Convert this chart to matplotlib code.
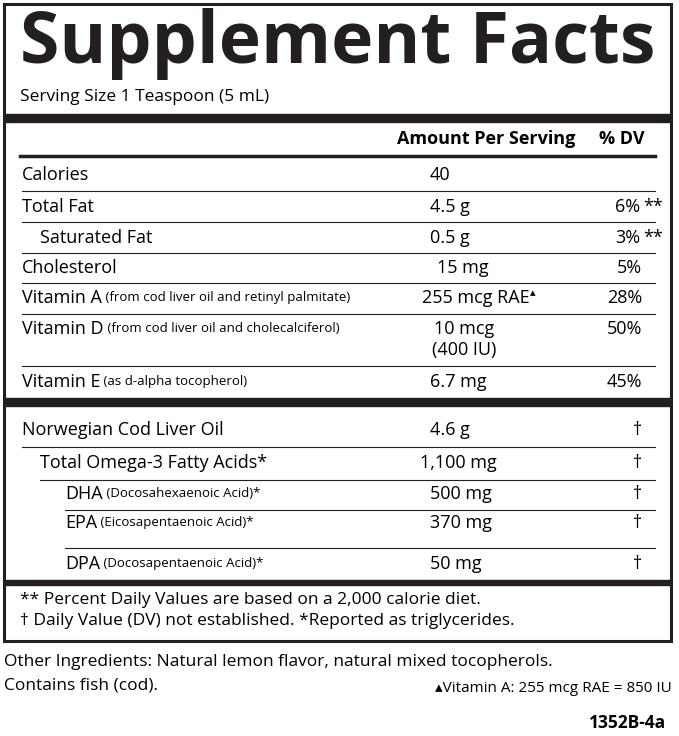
import matplotlib

matplotlib.use("Agg")
import matplotlib.pyplot as plt

FONT = ["Open Sans", "DejaVu Sans"]

serving = "Serving Size 1 Teaspoon (5 mL)"
nutrients = ["Calories", "Total Fat", "Saturated Fat", "Cholesterol", "Vitamin A", "Vitamin D",
             "Vitamin E", "Norwegian Cod Liver Oil", "Total Omega-3 Fatty Acids*", "DHA", "EPA", "DPA"]
notes = ["", "", "", "", "(from cod liver oil and retinyl palmitate)", "(from cod liver oil and cholecalciferol)",
         "(as d-alpha tocopherol)", "", "", "(Docosahexaenoic Acid)*", "(Eicosapentaenoic Acid)*",
         "(Docosapentaenoic Acid)*"]
amounts = ["40", "4.5 g", "0.5 g", "15 mg", "255 mcg RAE", "10 mcg", "6.7 mg",
           "4.6 g", "1,100 mg", "500 mg", "370 mg", "50 mg"]
amount_extra = ["", "", "", "", "", "(400 IU)", "", "", "", "", "", ""]
dvs = ["", "6% **", "3% **", "5%", "28%", "50%", "45%", "\u2020", "\u2020", "\u2020", "\u2020", "\u2020"]
footnotes = ["** Percent Daily Values are based on a 2,000 calorie diet.",
             "\u2020 Daily Value (DV) not established. *Reported as triglycerides."]

# layout (pixels)
row_y = [175, 207, 238, 268, 298, 329, 382, 430, 463, 494, 523, 564]
line_y = [191, 222, 253, 283, 314, 366, None, 447, 480, 510, 548, None]
indent = [22, 22, 40, 22, 22, 22, 22, 22, 40, 65, 65, 65]
line_x0 = [22, 22, 22, 22, 22, 22, 22, 22, 40, 65, 65, 65]
amt_x = [430, 430, 430, 437, 422, 434, 430, 430, 420, 430, 430, 430]
FS = 13

fig = plt.figure(figsize=(6.79, 7.36), dpi=100)
ax = fig.add_axes([0, 0, 1, 1])
ax.set_xlim(0, 679)
ax.set_ylim(736, 0)
ax.axis("off")

ax.add_patch(plt.Rectangle((4, 4), 667, 637, fill=False, lw=2.2, color="#231f20"))
title = ax.text(20, 44, "Supplement Facts", fontsize=50, fontweight="bold", family=FONT,
                va="center", ha="left", color="#231f20")
fig.canvas.draw()
bb = title.get_window_extent()
title.set_fontsize(50 * 635 / bb.width)

ax.text(20, 97, serving, fontsize=12.5, family=FONT, va="center")
ax.add_patch(plt.Rectangle((4, 114), 667, 8, color="#231f20"))
ax.text(575, 139, "Amount Per Serving", fontsize=FS, fontweight="bold", family=FONT, va="center", ha="right")
ax.text(645, 139, "% DV", fontsize=FS, fontweight="bold", family=FONT, va="center", ha="right")
ax.plot([20, 655], [156, 156], color="#231f20", lw=2.5)

for i, name in enumerate(nutrients):
    y = row_y[i]
    t = ax.text(indent[i], y, name, fontsize=FS, family=FONT, va="center")
    if notes[i]:
        ax.annotate(" " + notes[i], xy=(1, 0.15), xycoords=t, fontsize=9.5, family=FONT, va="bottom")
    a = ax.text(amt_x[i], y, amounts[i], fontsize=FS, family=FONT, va="center")
    if i == 4:
        ax.annotate("\u25B4", xy=(1, 0.75), xycoords=a, fontsize=8, family=FONT, va="center")
    if amount_extra[i]:
        ax.text(amt_x[i] - 2, y + 21, amount_extra[i], fontsize=FS, family=FONT, va="center")
    dv = dvs[i]
    if dv == "\u2020":
        ax.text(637, y, dv, fontsize=FS, family=FONT, va="center", ha="center")
    elif "**" in dv:
        p, s = dv.split(" ")
        ax.text(640, y, p, fontsize=FS, family=FONT, va="center", ha="right")
        ax.text(643, y, s, fontsize=FS, family=FONT, va="center", ha="left")
    elif dv:
        ax.text(642, y, dv, fontsize=FS, family=FONT, va="center", ha="right")
    if line_y[i]:
        ax.plot([line_x0[i], 655], [line_y[i], line_y[i]], color="#231f20", lw=0.8)

ax.add_patch(plt.Rectangle((4, 398), 667, 8, color="#231f20"))
ax.add_patch(plt.Rectangle((4, 580), 667, 5, color="#231f20"))
ax.text(20, 600, footnotes[0], fontsize=12.5, family=FONT, va="center")
ax.text(20, 621, footnotes[1], fontsize=12.5, family=FONT, va="center")

ax.text(4, 662, "Other Ingredients: Natural lemon flavor, natural mixed tocopherols.",
        fontsize=12.5, family=FONT, va="center")
ax.text(4, 686, "Contains fish (cod).", fontsize=12.5, family=FONT, va="center")
ax.text(672, 688, "\u25B4Vitamin A: 255 mcg RAE = 850 IU", fontsize=11, family=FONT, va="center", ha="right")
ax.text(666, 723, "1352B-4a", fontsize=12.5, fontweight="bold", family=FONT, va="center", ha="right")

fig.savefig("out.png", dpi=100)
